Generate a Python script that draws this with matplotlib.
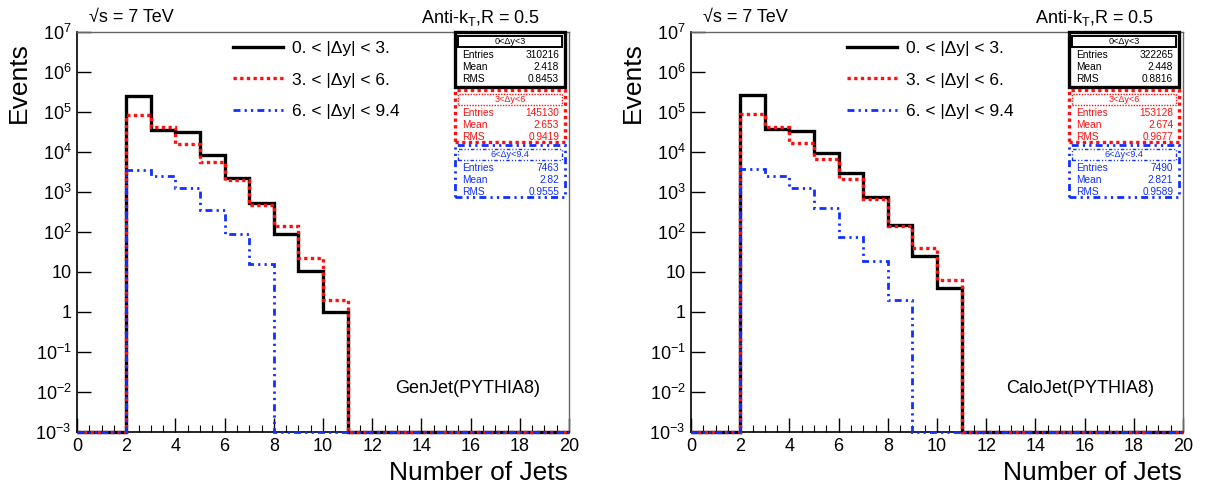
import numpy as np
import matplotlib
matplotlib.use("Agg")
from matplotlib import pyplot as plt
from matplotlib.patches import Rectangle
from matplotlib.ticker import FixedLocator, FuncFormatter, MultipleLocator

plt.rcParams['font.family'] = ['Liberation Sans', 'DejaVu Sans']
plt.rcParams['mathtext.fontset'] = 'custom'
plt.rcParams['mathtext.rm'] = 'Liberation Sans'
plt.rcParams['mathtext.it'] = 'Liberation Sans:italic'

# bin edges: number of jets 0..20, width 1
edges = np.arange(0, 21)

# GenJet(PYTHIA8), events per bin (0 = empty bin)
gen_dy0_3 = [0, 0, 2.5e5, 3.5e4, 3.1e4, 8.5e3, 2.3e3, 520, 89, 10.5, 1,
             0, 0, 0, 0, 0, 0, 0, 0, 0]
gen_dy3_6 = [0, 0, 8.5e4, 4.1e4, 1.6e4, 5.5e3, 2.0e3, 480, 145, 22, 2,
             0, 0, 0, 0, 0, 0, 0, 0, 0]
gen_dy6_9 = [0, 0, 3.6e3, 2.5e3, 1.26e3, 360, 89, 16, 0, 0, 0,
             0, 0, 0, 0, 0, 0, 0, 0, 0]

# CaloJet(PYTHIA8)
calo_dy0_3 = [0, 0, 2.6e5, 3.7e4, 3.4e4, 9.5e3, 2.9e3, 740, 147, 25, 4,
              0, 0, 0, 0, 0, 0, 0, 0, 0]
calo_dy3_6 = [0, 0, 8.9e4, 4.2e4, 1.7e4, 6.5e3, 2.1e3, 650, 145, 40, 6.2,
              0, 0, 0, 0, 0, 0, 0, 0, 0]
calo_dy6_9 = [0, 0, 3.8e3, 2.5e3, 1.26e3, 400, 75, 18.5, 2, 0, 0,
              0, 0, 0, 0, 0, 0, 0, 0, 0]

legend_labels = ["0. < |\u0394y| < 3.", "3. < |\u0394y| < 6.", "6. < |\u0394y| < 9.4"]
box_titles = ["0<\u0394y<3", "3<\u0394y<6", "6<\u0394y<9.4"]

gen_entries = ["310216", "145130", "7463"]
gen_mean = ["2.418", "2.653", "2.82"]
gen_rms = ["0.8453", "0.9419", "0.9555"]
calo_entries = ["322265", "153128", "7490"]
calo_mean = ["2.448", "2.674", "2.821"]
calo_rms = ["0.8816", "0.9677", "0.9589"]

YMIN, YMAX = 1e-3, 1e7

colors = ['black', '#ff1010', '#1030ff']
styles = ['-', (0, (1, 1)), (0, (2.5, 1.5, 0.8, 1.5, 0.8, 1.5))]
widths = [2.4, 2.4, 2.0]


def ylabel_fmt(v, pos):
    n = int(round(np.log10(v)))
    if n == 0:
        return "1"
    if n == 1:
        return "10"
    return r"$\mathregular{10^{%d}}$" % n


def draw_panel(ax, series, entries, mean, rms, tag):
    handles = []
    for vals, c, ls, lw in zip(series, colors, styles, widths):
        v = np.where(np.array(vals) > 0, vals, YMIN)
        h = ax.stairs(v, edges, color=c, linestyle=ls, linewidth=lw,
                      baseline=None, clip_on=False, zorder=3)
        handles.append(h)

    ax.set_yscale('log')
    ax.set_xlim(0, 20)
    ax.set_ylim(YMIN, YMAX)
    ax.xaxis.set_major_locator(MultipleLocator(2))
    ax.xaxis.set_minor_locator(MultipleLocator(0.5))
    ax.yaxis.set_major_locator(FixedLocator([10.0 ** k for k in range(-3, 8)]))
    ax.yaxis.set_major_formatter(FuncFormatter(ylabel_fmt))
    ax.tick_params(which='both', direction='in', top=False, right=False,
                   labelsize=13, pad=4)
    ax.tick_params(which='major', length=10, width=1)
    ax.tick_params(which='minor', length=5, width=0.8)
    for s in ['left', 'bottom']:
        ax.spines[s].set_linewidth(1.2)
    for s in ['top', 'right']:
        ax.spines[s].set_linewidth(1.0)
        ax.spines[s].set_color('#666666')

    ax.legend(handles, legend_labels, loc='upper left',
              bbox_to_anchor=(0.316, 0.978), frameon=False, fontsize=12.5,
              handlelength=2.9, handletextpad=0.55, labelspacing=0.95,
              borderpad=0, borderaxespad=0)

    # stat boxes
    tops = [1.0, 0.855, 0.7175]
    heights = [0.1375, 0.13, 0.13]
    box_lw = [2.4, 2.4, 2.0]
    x0, x1 = 0.768, 0.992
    for i in range(3):
        top = tops[i]
        ax.add_patch(Rectangle((x0, top - heights[i]), x1 - x0, heights[i],
                               transform=ax.transAxes, fill=True, facecolor='white',
                               edgecolor=colors[i], linestyle=styles[i],
                               linewidth=box_lw[i], clip_on=False, zorder=5))
        ax.add_patch(Rectangle((x0 + 0.006, top - 0.0375), x1 - x0 - 0.012, 0.0265,
                               transform=ax.transAxes, fill=False,
                               edgecolor=colors[i], linestyle=styles[i],
                               linewidth=1.0 if i else 1.4, clip_on=False, zorder=6))
        ax.text((x0 + x1) / 2, top - 0.024, box_titles[i], transform=ax.transAxes,
                ha='center', va='center', fontsize=6.5, color=colors[i], zorder=7)
        rows = [("Entries", entries[i]), ("Mean", mean[i]), ("RMS", rms[i])]
        for j, (name, val) in enumerate(rows):
            yy = top - 0.0575 - j * 0.0305
            ax.text(x0 + 0.014, yy, name, transform=ax.transAxes, ha='left',
                    va='center', fontsize=7.3, color=colors[i], zorder=7)
            ax.text(x1 - 0.012, yy, val, transform=ax.transAxes, ha='right',
                    va='center', fontsize=7.3, color=colors[i], zorder=7)

    ax.text(0.942, 0.108, tag, transform=ax.transAxes, ha='right', va='center',
            fontsize=13)
    ax.text(-0.118, 0.975, "Events", transform=ax.transAxes, rotation=90,
            ha='center', va='top', fontsize=19)
    ax.text(0.997, -0.103, "Number of Jets", transform=ax.transAxes,
            ha='right', va='center', fontsize=19)
    ax.text(0.024, 1.036, "\u221as = 7 TeV", transform=ax.transAxes,
            ha='left', va='center', fontsize=13)
    ax.text(0.942, 1.036, r"Anti-k$_\mathregular{T}$,R = 0.5", transform=ax.transAxes,
            ha='right', va='center', fontsize=13)


fig = plt.figure(figsize=(12.19, 4.91), dpi=100)
ax1 = fig.add_axes([0.0632, 0.1202, 0.4036, 0.8147])
ax2 = fig.add_axes([0.5669, 0.1202, 0.4036, 0.8147])

draw_panel(ax1, [gen_dy0_3, gen_dy3_6, gen_dy6_9], gen_entries, gen_mean, gen_rms,
           "GenJet(PYTHIA8)")
draw_panel(ax2, [calo_dy0_3, calo_dy3_6, calo_dy6_9], calo_entries, calo_mean, calo_rms,
           "CaloJet(PYTHIA8)")

fig.savefig("out.png", dpi=100)
